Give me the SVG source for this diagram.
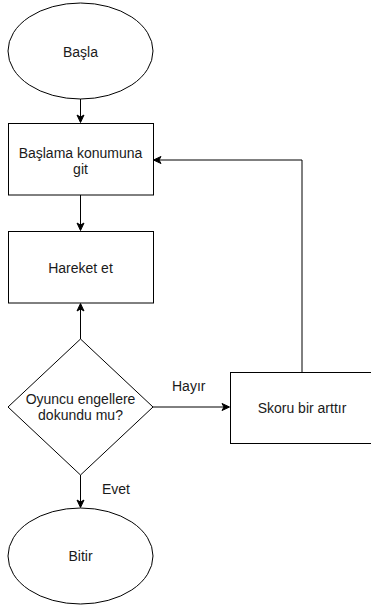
<svg xmlns="http://www.w3.org/2000/svg" width="371" height="606" viewBox="0 0 371 606">
<defs>
<marker id="arr" markerWidth="10" markerHeight="10" refX="8" refY="5" orient="auto" markerUnits="userSpaceOnUse">
<path d="M1,1.5 L8.5,5 L1,8.5 L3,5 Z" fill="#000" stroke="#000" stroke-width="1"/>
</marker>
</defs>
<style>
.s{fill:#fff;stroke:#000;stroke-width:1}
.t{font-family:"Liberation Sans",Arial,sans-serif;font-size:14px;fill:#1a1a1a;text-anchor:middle}
.l{font-family:"Liberation Sans",Arial,sans-serif;font-size:14px;fill:#1a1a1a}
.c{fill:none;stroke:#000;stroke-width:1;marker-end:url(#arr)}
</style>
<rect width="371" height="606" fill="#fff"/>
<g id="connectors">
<path class="c" d="M80.5,99 V122"/>
<path class="c" d="M80.5,195 V230"/>
<path class="c" d="M80.5,339 V304"/>
<path class="c" d="M153,407 H229"/>
<path class="c" d="M80.5,475 V507"/>
<path class="c" d="M302,372 V160 H154"/>
<text class="l" x="172" y="391">Hayır</text>
<text class="l" x="102" y="494">Evet</text>
</g>
<g id="start">
<ellipse class="s" cx="80.5" cy="51" rx="72.5" ry="48"/>
<text class="t" x="80.5" y="57">Başla</text>
</g>
<g id="goto-start">
<rect class="s" x="8.5" y="123.5" width="145" height="71.5"/>
<text class="t" x="80.5" y="158">Başlama konumuna</text>
<text class="t" x="80.5" y="174">git</text>
</g>
<g id="move">
<rect class="s" x="8.5" y="231.5" width="145" height="71.5"/>
<text class="t" x="80.5" y="273">Hareket et</text>
</g>
<g id="decision">
<path class="s" d="M80.5,339 L153,407 L80.5,475 L8,407 Z"/>
<text class="t" x="80.5" y="404">Oyuncu engellere</text>
<text class="t" x="80.5" y="420">dokundu mu?</text>
</g>
<g id="score">
<rect class="s" x="230.5" y="372.5" width="145" height="71"/>
<text class="t" x="302" y="413">Skoru bir arttır</text>
</g>
<g id="end">
<ellipse class="s" cx="80.5" cy="556" rx="72.5" ry="48"/>
<text class="t" x="80.5" y="561">Bitir</text>
</g>
</svg>
